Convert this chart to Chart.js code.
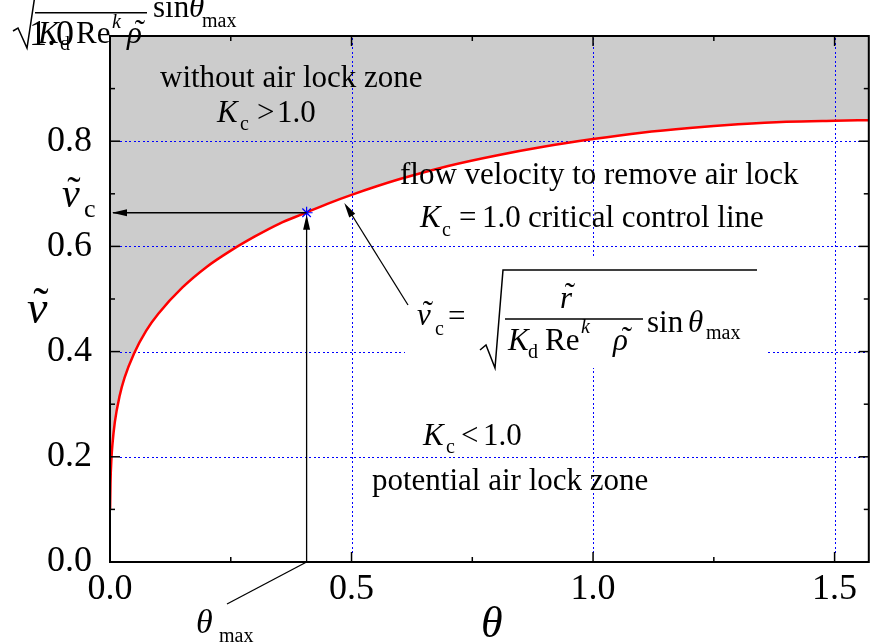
<!DOCTYPE html>
<html><head><meta charset="utf-8">
<script src="https://cdn.jsdelivr.net/npm/chart.js@4.4.1/dist/chart.umd.min.js"></script>
<style>html,body{margin:0;padding:0;background:#fff;overflow:hidden}canvas{display:block}</style>
</head><body>
<canvas id="c" width="876" height="644"></canvas>
<script>
// ---- data ----
const theta = [0.0002,0.001,0.003,0.005,0.01,0.02,0.03,0.05,0.075,0.1,0.15,0.2,0.25,0.3,0.35,0.4,0.45,0.5,0.6,0.7,0.8,0.9,1.0,1.1,1.2,1.3,1.4,1.5,1.5708];
const vCritical = [0.100,0.149,0.197,0.223,0.266,0.316,0.350,0.397,0.440,0.472,0.522,0.561,0.592,0.619,0.643,0.662,0.681,0.698,0.728,0.753,0.773,0.790,0.804,0.816,0.825,0.832,0.837,0.839,0.840];
const markerTheta = [0.407];
const markerV = [0.664];
const pointerTip = [0.485, 0.6825];
const xTickValues = [0, 0.5, 1.0, 1.5];
const yTickValues = [0, 0.2, 0.4, 0.6, 0.8, 1.0];
const xMinorTicks = [0.25, 0.75, 1.25];
const yMinorTicks = [0.1, 0.3, 0.5, 0.7, 0.9];

const FONT = '"Liberation Serif", "Times New Roman", serif';
function T(ctx, s, x, y, size, italic){ ctx.font = (italic?'italic ':'') + size + 'px ' + FONT; ctx.textAlign='left'; ctx.fillText(s, x, y); }
function tilde(ctx, cx, y, size){ ctx.font = size + 'px ' + FONT; ctx.textAlign='center'; ctx.fillText('\u02DC', cx, y); ctx.textAlign='left'; }
function L(ctx, x1,y1,x2,y2){ ctx.beginPath(); ctx.moveTo(x1,y1); ctx.lineTo(x2,y2); ctx.stroke(); }
function head(ctx, tx,ty, fx,fy, len, half){
  const ang = Math.atan2(ty-fy, tx-fx);
  const bx = tx - len*Math.cos(ang), by = ty - len*Math.sin(ang);
  const nx = -Math.sin(ang)*half, ny = Math.cos(ang)*half;
  ctx.beginPath(); ctx.moveTo(tx,ty); ctx.lineTo(bx+nx,by+ny); ctx.lineTo(bx-nx,by-ny); ctx.closePath(); ctx.fill();
}
function poly(ctx, pts){ ctx.beginPath(); ctx.moveTo(pts[0][0],pts[0][1]); for(let i=1;i<pts.length;i++) ctx.lineTo(pts[i][0],pts[i][1]); ctx.stroke(); }
function dotsV(ctx, x, y1, y2){ for (let y = y1; y < y2; y += 4.5) ctx.fillRect(x, Math.round(y), 1, 2); }
function dotsH(ctx, y, x1, x2){ for (let x = x1; x < x2; x += 4.5) ctx.fillRect(Math.round(x), y, 2, 1); }

const decor = {
  id:'decor',
  beforeDatasetDraw(chart, args){
    if (args.index !== 1) return;
    const ctx = chart.ctx, xs = chart.scales.x, ys = chart.scales.y, a = chart.chartArea;
    ctx.save();
    ctx.fillStyle = '#0000ff';
    xs.ticks.forEach(t => { if (t.value <= 0) return; const p = Math.round(xs.getPixelForValue(t.value)); dotsV(ctx, p, a.top+2, a.bottom-10); });
    ys.ticks.forEach(t => { if (t.value <= 0 || t.value >= 1) return; const p = Math.round(ys.getPixelForValue(t.value)); dotsH(ctx, p, a.left+10, a.right-2); });
    // white box behind the formula
    ctx.fillStyle = '#fff'; ctx.fillRect(405, 259, 363, 109);
    ctx.restore();
  },
  afterDraw(chart){
    const ctx = chart.ctx, xs = chart.scales.x, ys = chart.scales.y, a = chart.chartArea;
    ctx.save();
    ctx.strokeStyle = '#000'; ctx.fillStyle = '#000'; ctx.setLineDash([]);
    // frame
    ctx.lineWidth = 2;
    ctx.strokeRect(a.left, a.top, a.right-a.left, a.bottom-a.top);
    // ticks (inward, mirrored)
    ctx.lineWidth = 1.5;
    xs.ticks.forEach(t => { const p = xs.getPixelForValue(t.value); L(ctx,p,a.bottom,p,a.bottom-10); L(ctx,p,a.top,p,a.top+10); });
    xMinorTicks.forEach(v => { const p = xs.getPixelForValue(v); L(ctx,p,a.bottom,p,a.bottom-5); L(ctx,p,a.top,p,a.top+5); });
    ys.ticks.forEach(t => { const p = ys.getPixelForValue(t.value); L(ctx,a.left,p,a.left+10,p); L(ctx,a.right,p,a.right-10,p); });
    yMinorTicks.forEach(v => { const p = ys.getPixelForValue(v); L(ctx,a.left,p,a.left+5,p); L(ctx,a.right,p,a.right-5,p); });
    // arrows from the marked point
    const mx = xs.getPixelForValue(markerTheta[0]), my = ys.getPixelForValue(markerV[0]);
    ctx.lineWidth = 1.3;
    L(ctx, mx, my, a.left+3, my); head(ctx, a.left+2, my, mx, my, 15, 3.5);
    L(ctx, mx, a.bottom, mx, my+6); head(ctx, mx, my+2, mx, a.bottom, 15, 3.5);
    // pointer to curve
    const px = xs.getPixelForValue(pointerTip[0]), py = ys.getPixelForValue(pointerTip[1]);
    L(ctx, 408, 305, px+2, py+3); head(ctx, px, py, 408, 305, 15, 3.5);
    // theta_max leader
    L(ctx, mx, a.bottom, 227, 604);

    // ---- texts ----
    ctx.fillStyle = '#000';
    T(ctx,'without air lock zone',160,87,31,false);
    T(ctx,'K',217,122,31,true); T(ctx,'c',240,130,20,false); T(ctx,'>',257,122,31,false); T(ctx,'1.0',277,122,31,false);
    T(ctx,'flow velocity to remove air lock',400,184,31,false);
    T(ctx,'K',420,227,31,true); T(ctx,'c',442,236,20,false); T(ctx,'=',459,227,31,false); T(ctx,'1.0',482,227,31,false);
    T(ctx,'critical control line',528,227,31,false);
    T(ctx,'K',423,445,31,true); T(ctx,'c',446,453,20,false); T(ctx,'<',461,445,31,false); T(ctx,'1.0',483,445,31,false);
    T(ctx,'potential air lock zone',372,490,31,false);
    // formula
    T(ctx,'v',417,325,31,true); tilde(ctx,428,322,31); T(ctx,'c',435,335,20,false);
    T(ctx,'=',448,326,31,false);
    ctx.lineWidth = 1.5;
    poly(ctx, [[480,350],[486,345],[495,368],[503,270],[757,270]]);
    T(ctx,'r',560,308,31,true); tilde(ctx,570,304,31);
    L(ctx,505,319,643,319);
    T(ctx,'K',508,350,31,true); T(ctx,'d',528,358,20,false); T(ctx,'Re',545,350,31,false); T(ctx,'k',581,333,20,true);
    T(ctx,'\u03C1',613,350,31,true); tilde(ctx,627,348,31);
    T(ctx,'sin',647,332,31,false); T(ctx,'\u03B8',688,332,31,true); T(ctx,'max',706,339,20,false);
    // clipped copy of the formula at the top-left
    poly(ctx, [[13,31],[18,28],[27,48],[35,-5]]);
    L(ctx,35,12.7,147,12.7);
    T(ctx,'K',38,43,31,true); T(ctx,'d',60,50,20,false); T(ctx,'Re',76,43,31,false); T(ctx,'k',112,28,20,true);
    T(ctx,'\u03C1',127,43,31,true); tilde(ctx,140,41,31);
    T(ctx,'sin',153,17,31,false); T(ctx,'\u03B8',189,17,31,true); T(ctx,'max',202,27,20,false);
    // axis titles
    T(ctx,'v',27,323,46,true); tilde(ctx,41,319,46);
    T(ctx,'v',62,207,40,true); tilde(ctx,74,204,40); T(ctx,'c',84,217,26,false);
    T(ctx,'\u03B8',481,637,44,true);
    T(ctx,'\u03B8',196,633,34,true); T(ctx,'max',219,642,20,false);
    ctx.restore();
  }
};

const curve = theta.map((t,i) => ({x:t, y:vCritical[i]}));
const tickFont = {family:'Liberation Serif', size:36, lineHeight:1.2};
new Chart(document.getElementById('c').getContext('2d'), {
  type:'line',
  data:{datasets:[
    {label:'theta_max point', data: markerTheta.map((t,i)=>({x:t, y:markerV[i]})), showLine:false, pointStyle:'star', pointRadius:6, pointBorderWidth:1.2, borderColor:'#0000ff', backgroundColor:'#0000ff', order:0},
    {label:'critical control line', data: curve, borderColor:'#ff0000', borderWidth:2.5, pointRadius:0, fill:false, cubicInterpolationMode:'monotone', order:1},
    {label:'without air lock zone', data: curve, borderWidth:0, borderColor:'rgba(0,0,0,0)', backgroundColor:'#cccccc', pointRadius:0, fill:'end', cubicInterpolationMode:'monotone', order:2}
  ]},
  options:{
    responsive:false, animation:false, devicePixelRatio:1,
    layout:{padding:{left:0, top:36, right:5, bottom:0}},
    plugins:{legend:{display:false}, tooltip:{enabled:false}},
    scales:{
      x:{type:'linear', min:0, max:1.5708, grid:{display:false}, border:{display:false},
        afterBuildTicks: s => { s.ticks = xTickValues.map(v => ({value:v})); },
        afterFit: s => { s.height = 82; },
        ticks:{padding:-2, font:tickFont, color:'#000', maxRotation:0, autoSkip:false, callback: v => Number(v).toFixed(1)}},
      y:{type:'linear', min:0, max:1, grid:{display:false}, border:{display:false},
        afterBuildTicks: s => { s.ticks = yTickValues.map(v => ({value:v})); },
        afterFit: s => { s.width = 110; },
        ticks:{padding:10, font:tickFont, color:'#000', autoSkip:false, callback: v => (v === 1 ? '1.0  ' : Number(v).toFixed(1))}}
    }
  },
  plugins:[decor]
});
</script>
</body></html>
